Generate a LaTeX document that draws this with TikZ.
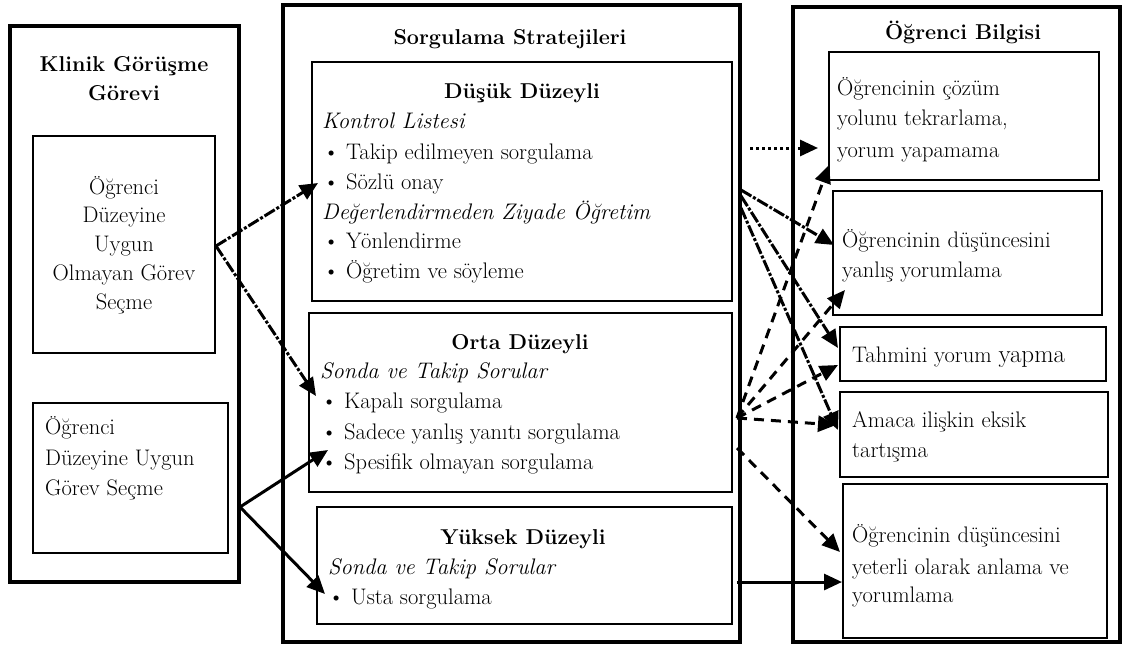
\documentclass[tikz,border=0pt]{standalone}
\usepackage{fontspec}
\usetikzlibrary{arrows.meta,fit}
\begin{document}
\begin{tikzpicture}[x=1pt,y=-1pt,
  outer/.style={draw, line width=3.4pt, inner sep=0pt},
  inner/.style={draw, line width=1.8pt, inner sep=0pt},
  txt/.style={anchor=base west, inner sep=0pt, font=\fontsize{22.5}{27}\selectfont},
  ctxt/.style={anchor=base, inner sep=0pt, font=\fontsize{22.5}{27}\selectfont},
  itxt/.style={txt, font=\fontsize{22.5}{27}\selectfont\itshape},
  ttl/.style={anchor=base, inner sep=0pt, font=\fontsize{21.5}{26}\selectfont\bfseries},
  arr/.style={line width=3pt, -{Triangle[length=18pt,width=16pt]}},
  dashdot/.style={arr, dash pattern=on 12pt off 2pt on 3pt off 2pt},
  longdash/.style={arr, dash pattern=on 10pt off 7pt},
  dotline/.style={arr, dash pattern=on 3pt off 3pt},
]
\useasboundingbox (0,0) rectangle (1127,646);
% outer boxes
\node[outer, fit={(10,26) (239,582)}] (L) {};
\node[outer, fit={(283,5) (740,642)}] (M) {};
\node[outer, fit={(793,7) (1120,642)}] (R) {};
% left inner
\node[inner, fit={(33,136) (215,353)}] (l1) {};
\node[inner, fit={(33,403) (228,553)}] (l2) {};
% middle inner
\node[inner, fit={(312,62) (732,301)}] (m1) {};
\node[inner, fit={(309,313) (732,492)}] (m2) {};
\node[inner, fit={(317,507) (732,624)}] (m3) {};
% right inner
\node[inner, fit={(829,52) (1099,180)}] (r1) {};
\node[inner, fit={(833,191) (1102,315)}] (r2) {};
\node[inner, fit={(840,327) (1106,381)}] (r3) {};
\node[inner, fit={(840,392) (1108,477)}] (r4) {};
\node[inner, fit={(843,484) (1107,638)}] (r5) {};

% left texts
\node[ttl] (lt1) at (124,71) {Klinik Görüşme};
\node[ttl] (lt2) at (124,100) {Görevi};
\node[ctxt] (a1) at (124,194) {Öğrenci};
\node[ctxt] (a2) at (124,222) {Düzeyine};
\node[ctxt] (a3) at (124,251) {Uygun};
\node[ctxt] (a4) at (124,280) {Olmayan Görev};
\node[ctxt] (a5) at (124,309) {Seçme};
\node[txt] (b1) at (45,434) {Öğrenci};
\node[txt] (b2) at (45,465) {Düzeyine Uygun};
\node[txt] (b3) at (45,495) {Görev Seçme};

% middle texts
\node[ttl] (mt) at (510,44) {Sorgulama Stratejileri};
\node[ttl] (d0) at (522,98) {Düşük Düzeyli};
\node[itxt] (d1) at (322,128) {Kontrol Listesi};
\node[txt] (d2) at (323,159) {\textbullet\ Takip edilmeyen sorgulama};
\node[txt] (d3) at (323,189) {\textbullet\ Sözlü onay};
\node[itxt] (d4) at (322,219) {Değerlendirmeden Ziyade Öğretim};
\node[txt] (d5) at (323,248) {\textbullet\ Yönlendirme};
\node[txt] (d6) at (323,278) {\textbullet\ Öğretim ve söyleme};
\node[ttl] (o0) at (520,349) {Orta Düzeyli};
\node[itxt] (o1) at (320,378) {Sonda ve Takip Sorular};
\node[txt] (o2) at (321,408) {\textbullet\ Kapalı sorgulama};
\node[txt] (o3) at (321,439) {\textbullet\ Sadece yanlış yanıtı sorgulama};
\node[txt] (o4) at (321,469) {\textbullet\ Spesifik olmayan sorgulama};
\node[ttl] (y0) at (523,544) {Yüksek Düzeyli};
\node[itxt] (y1) at (328,574) {Sonda ve Takip Sorular};
\node[txt] (y2) at (328,604) {\textbullet\ Usta sorgulama};

% right texts
\node[ttl] (rt) at (963,39) {Öğrenci Bilgisi};
\node[txt] (p1) at (837,95) {Öğrencinin çözüm};
\node[txt] (p2) at (837,125) {yolunu tekrarlama,};
\node[txt] (p3) at (837,157) {yorum yapamama};
\node[txt] (q1) at (842,247) {Öğrencinin düşüncesini};
\node[txt] (q2) at (842,277) {yanlış yorumlama};
\node[txt] (s1) at (852,362) {Tahmini yorum {\fontsize{25}{30}\selectfont yapma}};
\node[txt] (u1) at (852,427) {Amaca ilişkin eksik};
\node[txt] (u2) at (852,457) {tartışma};
\node[txt] (v1) at (852,542) {Öğrencinin düşüncesini};
\node[txt] (v2) at (852,574) {yeterli olarak anlama ve};
\node[txt] (v3) at (852,602) {yorumlama};

% connector coordinates
\coordinate (ls1) at (216,246);
\coordinate (lt1e) at (318,183);
\coordinate (lt2e) at (316,396);
\coordinate (ls2) at (240,507);
\coordinate (lt3e) at (328,450);
\coordinate (lt4e) at (325,594);
\coordinate (dsa) at (750,148);
\coordinate (dtA) at (818,148);
\coordinate (ds1) at (741,190);
\coordinate (ds2) at (741,196);
\coordinate (ds3) at (741,208);
\coordinate (dt2) at (834,245);
\coordinate (dt3) at (838,348);
\coordinate (dt4) at (838,430);
\coordinate (os1) at (737,418);
\coordinate (os2) at (737,448);
\coordinate (ot1) at (829,165);
\coordinate (ot2) at (845,290);
\coordinate (ot3) at (838,365);
\coordinate (ot4) at (836,425);
\coordinate (ot5) at (840,552);
\coordinate (ys) at (737,582);
\coordinate (yt) at (842,582);

% left arrows
\draw[dashdot] (ls1) -- (lt1e);
\draw[dashdot] (ls1) -- (lt2e);
\draw[arr] (ls2) -- (lt3e);
\draw[arr] (ls2) -- (lt4e);
% right arrows
\draw[dotline] (dsa) -- (dtA);
\draw[dashdot] (ds1) -- (dt2);
\draw[dashdot] (ds2) -- (dt3);
\draw[dashdot] (ds3) -- (dt4);
\draw[longdash] (os1) -- (ot1);
\draw[longdash] (os1) -- (ot2);
\draw[longdash] (os1) -- (ot3);
\draw[longdash] (os1) -- (ot4);
\draw[longdash] (os2) -- (ot5);
\draw[arr] (ys) -- (yt);
\end{tikzpicture}
\end{document}
